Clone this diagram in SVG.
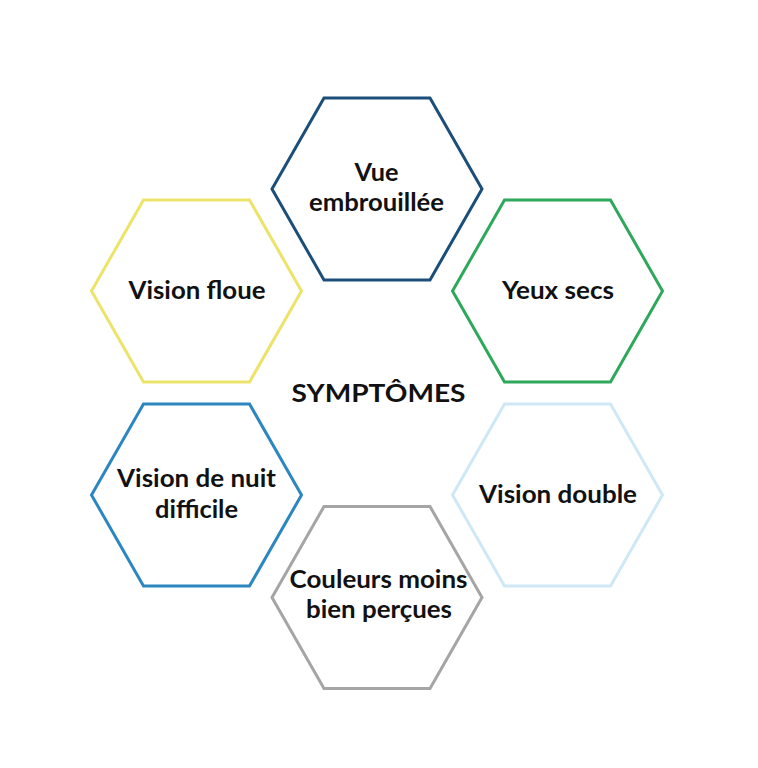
<svg xmlns="http://www.w3.org/2000/svg" width="758" height="768" viewBox="0 0 758 768">
<style>
.hex{fill:none;stroke-width:3;stroke-linejoin:miter}
.t{font-family:Lato,"Open Sans","DejaVu Sans",sans-serif;font-weight:bold;font-size:24px;fill:#111;text-anchor:middle}
</style>
<defs>
<polygon id="h" points="-105,0 -53,-91 53,-91 105,0 53,91 -53,91"/>
</defs>
<rect width="758" height="768" fill="#fff"/>
<g id="title"><text class="t" x="378.5" y="401.5" textLength="174" lengthAdjust="spacingAndGlyphs">SYMPTÔMES</text></g>
<g id="n1"><use href="#h" class="hex" stroke="#1b4f7a" x="377" y="189"/><text class="t" x="376.5" y="181" textLength="44" lengthAdjust="spacingAndGlyphs">Vue</text><text class="t" x="376.5" y="211" textLength="135" lengthAdjust="spacingAndGlyphs">embrouillée</text></g>
<g id="n2"><use href="#h" class="hex" stroke="#2ea85a" x="557.5" y="291"/><text class="t" x="558" y="298.5" textLength="112" lengthAdjust="spacingAndGlyphs">Yeux secs</text></g>
<g id="n3"><use href="#h" class="hex" stroke="#cfe8f5" x="557.5" y="495"/><text class="t" x="558" y="502.5" textLength="158" lengthAdjust="spacingAndGlyphs">Vision double</text></g>
<g id="n4"><use href="#h" class="hex" stroke="#a5a5a5" x="377" y="597.5"/><text class="t" x="378.5" y="588" textLength="178" lengthAdjust="spacingAndGlyphs">Couleurs moins</text><text class="t" x="379" y="618" textLength="146" lengthAdjust="spacingAndGlyphs">bien perçues</text></g>
<g id="n5"><use href="#h" class="hex" stroke="#2c87c0" x="196.5" y="495"/><text class="t" x="196.5" y="486.5" textLength="159" lengthAdjust="spacingAndGlyphs">Vision de nuit</text><text class="t" x="196.5" y="518" textLength="83" lengthAdjust="spacingAndGlyphs">difficile</text></g>
<g id="n6"><use href="#h" class="hex" stroke="#ede36a" x="196.5" y="291"/><text class="t" x="197" y="298.5" textLength="137" lengthAdjust="spacingAndGlyphs">Vision floue</text></g>
<g id="connectors"/>
</svg>
